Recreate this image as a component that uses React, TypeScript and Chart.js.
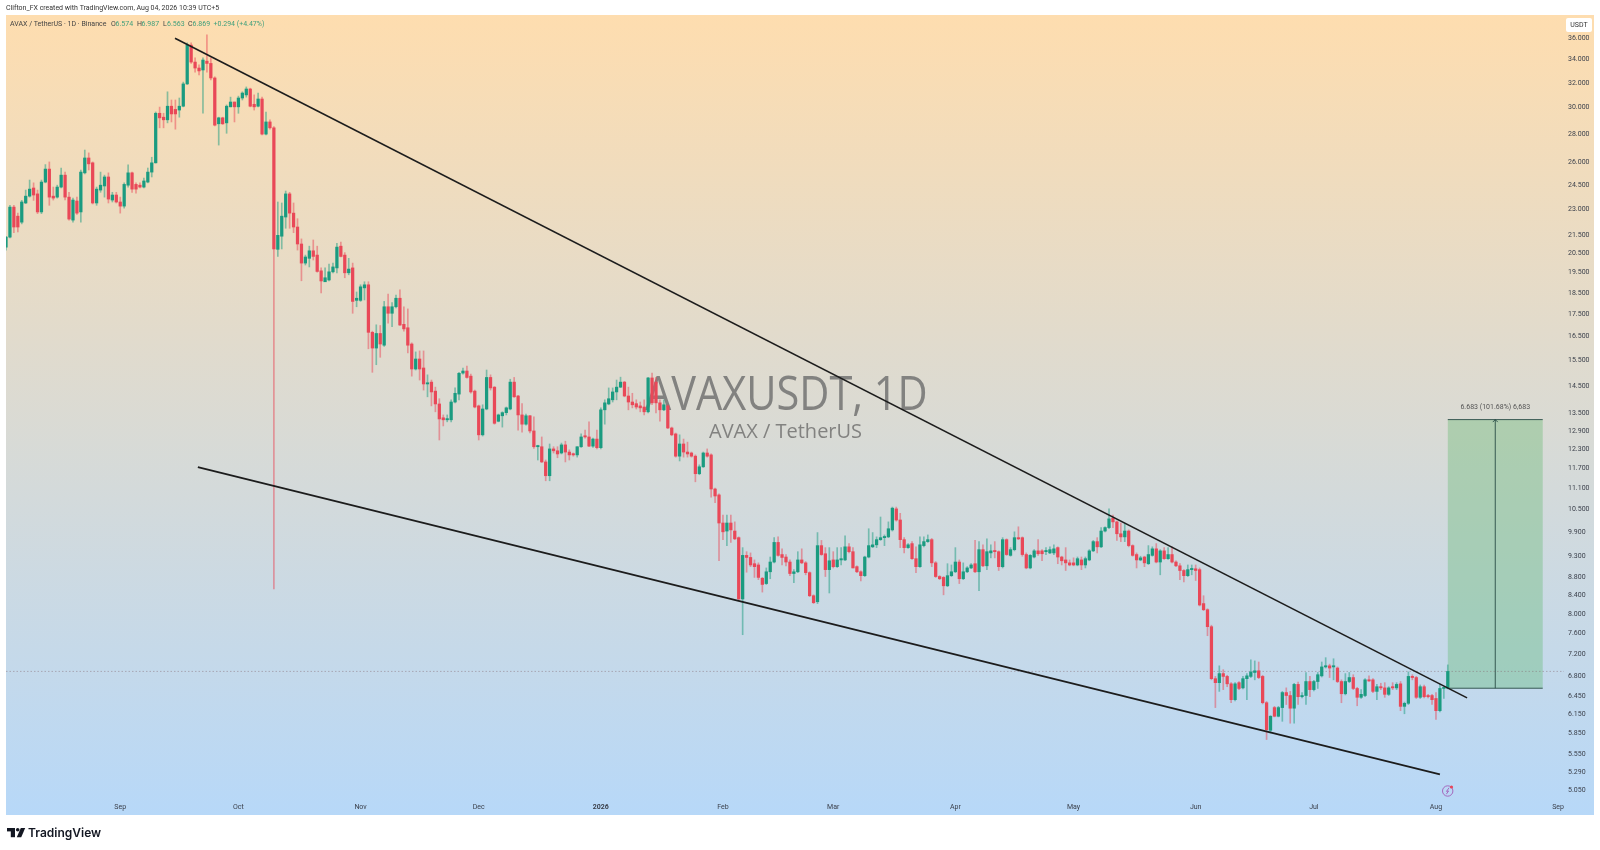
import React, { useEffect, useRef } from "react";
import { Chart, registerables } from "chart.js";

Chart.register(...registerables);

const opens = [
20.8,21.35,23.09,22.55,22.2,23.34,23.76,24.27,23.9,22.8,
24.65,25.5,23.76,23.7,24.33,25.1,23.7,22.32,23.46,22.8,
25.25,26.25,25.92,23.34,24.14,24.4,24.98,23.52,23.83,23.4,
23.15,24.45,25.25,24.5,24.45,24.33,24.65,25.3,25.92,29.5,
29.2,29,30.05,29.8,29.75,30.05,31.85,35.25,33.72,33.2,
33.03,33.8,33.6,32.35,28.7,29.15,28.77,30,30.38,30,
30.7,30.95,31.43,30.2,30.05,30.62,27.94,28.84,28.4,20.68,
21.4,22.5,23.9,22.73,21.92,20.97,19.95,20.2,20.6,20.37,
19.55,19,19.09,19.5,19.7,20.85,20.37,19.45,19.7,18.1,
18.1,18.7,18.85,16.65,15.98,16.6,16.1,17.8,17.5,17.8,
18.2,17,16.85,16.15,15.13,15.53,15.17,14.55,14.62,14.28,
13.81,13.32,13.25,13.25,13.88,14.17,14.97,15.05,14.85,14.28,
13.74,12.74,13.63,14.8,14.43,13.2,13.39,13.5,13.63,14.62,
14.1,13.42,13.1,13.39,12.87,12.35,12.35,11.87,11.45,12.28,
12.22,12.15,12.41,12.18,12.12,12.09,12.35,12.7,12.67,12.37,
12.6,12.32,13.6,13.81,13.96,14.25,14.43,14.62,14.1,13.88,
13.82,13.74,13.7,13.53,14.78,14.62,13.85,13.6,13.74,12.97,
12.77,12.05,12.44,12.18,12.15,12.05,11.51,11.72,12.15,12.09,
11.06,10.89,10.12,9.91,10.12,9.91,9.74,8.3,9.3,9.25,
9.1,9.07,8.76,8.64,8.91,9.14,9.62,9.32,9.26,9.14,
8.87,8.91,9.19,9.12,8.89,8.37,8.24,9.54,9.34,8.96,
9.19,9.03,9.19,9.19,9.51,9.39,9.03,8.91,8.82,9.26,
9.51,9.56,9.69,9.74,9.76,9.94,10.5,10.2,9.69,9.49,
9.59,9.22,9.03,9.54,9.64,9.69,9.12,8.8,8.78,8.59,
8.82,8.91,9.14,8.75,8.91,9,9.1,8.91,9.44,9.05,
9.36,9.41,9.39,9.03,9.69,9.3,9.44,9.74,9.74,9.32,
9,9.26,9.41,9.41,9.39,9.36,9.36,9.49,9.26,9.19,
9.12,9.12,9.07,9.19,9.07,9.19,9.41,9.64,9.51,9.91,
10,10.25,10.15,9.84,9.76,9.91,9.54,9.32,9.19,9.26,
9.1,9.3,9.46,9.14,9.41,9.22,9.32,9.14,9.05,8.94,
8.82,8.96,8.98,8.96,8.2,8.07,7.72,6.74,6.67,6.83,
6.78,6.65,6.38,6.67,6.58,6.74,6.78,6.85,6.88,6.78,
6.33,5.89,6.25,6.11,6.25,6.5,6.45,6.24,6.64,6.43,
6.45,6.69,6.55,6.69,6.79,6.95,6.97,6.95,6.93,6.69,
6.48,6.69,6.76,6.57,6.42,6.45,6.72,6.72,6.52,6.6,
6.58,6.47,6.6,6.58,6.65,6.27,6.32,6.78,6.76,6.42,
6.6,6.45,6.45,6.4,6.2,6.57,6.574,
];

const highs = [
21.4,23.2,23.2,22.73,23.5,24.14,24.78,24.6,24.14,24.78,
25.8,25.98,24.33,24.45,25.57,25.3,24,23.64,23.7,25.44,
26.8,26.6,25.98,24.33,25.3,25.1,25.25,24,24,23.7,
24.6,25.78,25.3,24.6,24.6,24.9,25.57,26.3,29.6,29.98,
29.5,31.2,30.54,30.54,30.7,32,35.45,35.45,34.1,33.47,
34.1,36.2,34.1,32.45,29.2,29.2,30.15,30.77,30.38,30.85,
31.2,31.6,31.5,30.95,31.1,30.77,29.6,29,28.5,23.4,
23.34,24.08,24,23.34,22.4,21.25,20.37,20.85,21.19,20.85,
19.7,19.7,19.9,19.95,21,21.07,20.5,20.2,19.95,18.5,
18.85,19,19,16.7,16.98,16.95,18.05,18.4,18,18.35,
18.6,17.8,17.7,16.2,15.82,15.86,15.86,14.9,14.7,14.43,
14,13.42,13.42,13.96,14.4,15,15.17,15.25,14.93,14.32,
13.77,13.78,15.09,14.9,14.45,13.45,13.53,13.7,14.73,14.8,
14.12,13.82,13.45,13.41,13.35,12.4,12.67,11.93,12.44,12.35,
12.35,12.47,12.53,12.25,12.15,12.35,12.77,12.9,13.18,12.63,
12.9,13.67,13.96,14.4,14.4,14.7,14.81,14.65,14.43,14.2,
13.96,13.88,13.96,14.8,14.97,14.8,13.96,13.96,13.78,13,
12.8,12.74,12.6,12.5,12.18,12.09,11.78,12.18,12.28,12.12,
11.09,10.92,10.33,10.33,10.33,10.15,9.76,9.49,9.39,9.36,
9.19,9.12,8.78,9,9.26,9.74,9.76,9.46,9.32,9.19,
8.96,9.39,9.46,9.15,8.91,8.39,9.87,9.67,9.49,9.49,
9.39,9.49,9.49,9.79,9.59,9.49,9.05,8.93,9.28,9.97,
9.87,9.76,10.28,9.81,10.15,10.55,10.55,10.38,9.74,9.59,
9.64,9.51,9.76,9.76,9.81,9.72,9.15,8.82,8.8,9.1,
9.07,9.49,9.19,9.12,9.03,9.1,9.67,9.64,9.56,9.71,
9.56,9.64,9.41,9.74,9.71,9.49,9.89,10.02,9.76,9.36,
9.32,9.44,9.69,9.44,9.49,9.51,9.56,9.51,9.28,9.49,
9.19,9.24,9.26,9.26,9.26,9.44,9.67,9.74,10,10.02,
10.5,10.33,10.17,10.12,10.1,9.94,9.56,9.36,9.28,9.28,
9.54,9.51,9.59,9.44,9.49,9.49,9.51,9.17,9.1,8.96,
9.07,9.07,9.07,9,8.37,8.09,7.75,6.78,6.97,6.9,
6.8,6.67,6.67,6.69,6.78,6.83,7.08,7.06,7.04,6.8,
6.35,6.12,6.27,6.27,6.52,6.58,6.52,6.66,6.68,6.5,
6.85,6.78,6.71,6.85,7.04,7.12,7,7.1,6.95,6.72,
6.83,6.85,6.81,6.59,6.55,6.74,6.79,6.74,6.64,6.66,
6.67,6.6,6.67,6.67,6.69,6.34,6.86,6.81,6.78,6.63,
6.63,6.47,6.47,6.5,6.64,6.6,6.987,
];

const lows = [
20.64,21.3,21.6,21.64,22.1,23.3,23.7,23.5,22.7,22.7,
24.6,23.2,23.52,23.64,24.27,23.52,22.32,22.2,22.65,22.2,
25.18,25.44,23.28,23.2,24,23.7,23.34,23.4,23.34,22.73,
23.03,24.33,24,23.95,24.27,24.27,24.6,24.98,25.9,28.4,
28.4,28.77,28.84,28.3,29.2,30,31.8,33.6,32.85,32.6,
29.5,32.85,32.18,28.54,27.15,28.65,28,30,28.84,29.5,
30.54,30.77,30,29.75,30,27.87,27.87,28.3,8.52,20.3,
20.7,21.85,21.85,21.6,20.64,19.05,19.85,19.75,20.11,19.48,
18.45,19,19.04,19.45,19.45,20.27,19.2,19.35,17.5,17.8,
18.05,18.12,15.95,15,15.3,15.6,16.05,17.05,16.9,17.75,
16.95,16.7,15.78,14.85,15.09,14.7,14.32,14.07,13.74,13.53,
12.57,13.04,13.18,13.18,13.85,13.96,14.93,14.77,14.2,13.67,
12.57,12.7,13.6,14.32,13.1,13.18,13,13.42,13.6,14.05,
12.9,12.83,13.07,12.8,12.3,11.93,11.85,11.3,11.3,12.15,
12,12.12,11.87,11.93,12.05,12.02,12.33,12.63,12.35,12.33,
12.28,12.28,13.1,13.78,13.88,13.96,14.41,14.07,13.6,13.67,
13.63,13.53,13.42,13.49,13.78,13.49,13.2,13.57,12.95,12.71,
12.02,11.9,12.02,12.02,12.02,11.27,11.48,11.7,12.02,10.83,
10.67,9.17,9.69,9.54,9.62,9.69,8.28,7.56,8.9,9.03,
8.78,8.73,8.45,8.62,8.75,9.12,9.28,9.07,9.05,8.82,
8.66,8.89,9.1,8.84,8.35,8.2,8.2,9.3,8.8,8.43,
9,9.01,9.07,9.17,9.36,9,8.89,8.7,8.8,9.24,
9.49,9.49,9.67,9.54,9.74,9.91,10.17,9.49,9.36,9.47,
9.2,8.89,9.01,9.51,9.62,9.03,8.78,8.73,8.39,8.57,
8.8,8.89,8.64,8.73,8.89,8.98,8.89,8.48,9.03,8.96,
9.24,9.24,8.94,9,9.3,9.28,9.41,9.69,9.28,8.98,
8.98,9.24,9.3,9.17,9.32,9.34,9.32,9.1,9.07,8.94,
9.05,9.05,9.05,8.96,9,9.17,9.39,9.36,9.49,9.89,
9.97,10,9.67,9.64,9.64,9.51,9.28,9,9.17,9.03,
9.08,9.28,9.12,8.84,9.2,9.2,9.12,9.03,8.73,8.68,
8.8,8.84,8.71,8.15,8.05,7.54,6.72,6.25,6.52,6.55,
6.6,6.33,6.36,6.55,6.56,6.38,6.76,6.72,6.74,6.31,
5.75,5.85,6.1,6.1,6.03,6.3,6,6,6.3,6.41,
6.3,6.43,6.53,6.57,6.77,6.93,6.76,6.72,6.67,6.33,
6.46,6.67,6.55,6.28,6.4,6.43,6.69,6.5,6.38,6.55,
6.42,6.45,6.55,6.55,6.2,6.15,6.3,6.72,6.4,6.4,
6.41,6.41,6.3,6.06,6.18,6.4,6.563,
];

const closes = [
21.35,23.09,21.92,21.92,23.4,23.76,24.2,23.83,22.8,24.65,
25.5,23.7,23.64,24.33,25.1,23.7,22.38,23.52,22.73,25.3,
26.25,25.85,23.34,24.2,24.45,24.98,23.58,23.83,23.4,23.15,
24.5,25.25,24.2,24.2,24.33,24.72,25.3,25.92,29.5,29.15,
29,30.05,29.45,29.45,30.05,31.85,35.25,33.72,33.2,32.95,
33.9,33.6,32.35,28.6,29.15,28.7,30.05,30.38,30,30.7,
31.1,31.43,30.05,30,30.62,27.94,28.84,28.4,20.7,21.45,
22.55,23.9,22.73,21.92,20.97,19.95,20.27,20.6,20.3,19.52,
19.04,19.2,19.5,19.75,20.8,20.3,19.45,19.64,18.05,18.2,
18.75,18.85,16.65,15.98,16.6,16.15,17.8,17.5,17.8,18.2,
16.97,16.8,16.1,15.13,15.53,15.13,14.55,14.59,14.25,13.81,
13.28,13.25,13.28,13.88,14.2,14.96,15.05,14.8,14.25,13.7,
12.74,13.63,14.8,14.4,13.13,13.42,13.5,13.67,14.62,14.07,
13.42,13.1,13.39,12.87,12.35,12.37,11.87,11.45,12.28,12.22,
12.12,12.41,12.18,12.09,12.09,12.35,12.67,12.67,12.37,12.6,
12.32,13.6,13.85,14,14.25,14.43,14.62,14.1,13.88,13.78,
13.7,13.67,13.53,14.78,13.85,13.85,13.6,13.78,12.97,12.74,
12.05,12.44,12.18,12.12,12.05,11.51,11.72,12.15,12.05,11.06,
10.86,10.12,9.89,10.12,9.94,9.71,8.3,9.3,9.25,9.07,
9.03,8.78,8.62,8.91,9.14,9.62,9.3,9.25,9.14,8.87,
8.91,9.19,9.12,8.89,8.37,8.22,9.54,9.32,8.96,9.17,
9.03,9.19,9.22,9.51,9.39,9,8.91,8.82,9.26,9.54,
9.56,9.69,9.74,9.76,9.97,10.52,10.2,9.69,9.49,9.56,
9.22,9.03,9.56,9.64,9.69,9.12,8.8,8.75,8.59,8.82,
8.91,9.14,8.75,8.91,9,9.07,8.91,9.44,9.05,9.39,
9.41,9.39,9.03,9.69,9.32,9.44,9.74,9.71,9.32,9,
9.3,9.41,9.34,9.34,9.41,9.44,9.46,9.26,9.17,9.12,
9.07,9.07,9.22,9.07,9.22,9.41,9.64,9.51,9.91,10,
10.23,10.15,9.84,9.76,9.91,9.54,9.3,9.19,9.24,9.12,
9.32,9.46,9.14,9.41,9.22,9.32,9.14,9.05,8.94,8.82,
8.96,8.98,8.94,8.17,8.07,7.72,6.74,6.67,6.83,6.78,
6.65,6.38,6.65,6.57,6.74,6.79,6.86,6.88,6.76,6.33,
5.9,6.11,6.11,6.25,6.5,6.45,6.24,6.64,6.43,6.45,
6.69,6.55,6.69,6.81,6.95,6.97,6.93,6.97,6.69,6.48,
6.69,6.76,6.57,6.42,6.47,6.72,6.7,6.52,6.6,6.58,
6.47,6.58,6.58,6.64,6.27,6.32,6.78,6.76,6.42,6.6,
6.43,6.43,6.38,6.2,6.57,6.58,6.869,
];

// day offset from 1 Sep 2025 of the first candle
const firstDay = -29;
const days = opens.map((_, i) => firstDay + i);

const priceTicks = [36,34,32,30,28,26,24.5,23,21.5,20.5,19.5,18.5,17.5,16.5,15.5,14.5,13.5,12.9,12.3,11.7,11.1,10.5,9.9,9.3,8.8,8.4,8,7.6,7.2,6.8,6.45,6.15,5.85,5.55,5.29,5.05];
const monthDays = [0,30,61,91,122,153,181,212,242,273,303,334,365];
const monthNames = ["Sep","Oct","Nov","Dec","2026","Feb","Mar","Apr","May","Jun","Jul","Aug","Sep"];

const upperTrend = [{ x: 13.9, y: 35.88 }, { x: 341.9, y: 6.41 }];
const lowerTrend = [{ x: 19.7, y: 11.71 }, { x: 335, y: 5.25 }];
const lastPrice = 6.869;
const measure = { fromDay: 337, toDay: 361.1, low: 6.574, high: 13.257, label: "6.683 (101.68%) 6,683" };

const FONT = '"Roboto", "Liberation Sans", sans-serif';
const GREEN = "rgb(26,155,128)";
const RED = "rgb(233,72,88)";
const GREEN_W = "rgba(26,155,128,0.5)";
const RED_W = "rgba(233,72,88,0.5)";

const decor = {
  id: "decor",
  beforeDraw(chart: any) {
    const { ctx } = chart;
    ctx.save();
    ctx.fillStyle = "#ffffff";
    ctx.fillRect(0, 0, 1600, 850);
    const g = ctx.createLinearGradient(0, 15, 0, 815);
    g.addColorStop(0, "rgb(254,221,175)");
    g.addColorStop(1, "rgb(183,216,248)");
    ctx.fillStyle = g;
    ctx.fillRect(6, 15, 1588, 800);
    ctx.restore();
  },
  beforeDatasetsDraw(chart: any) {
    const { ctx, scales } = chart;
    const { x, y } = scales;
    ctx.save();
    ctx.textAlign = "left";
    ctx.textBaseline = "alphabetic";
    ctx.fillStyle = "rgb(130,130,128)";
    ctx.save();
    ctx.translate(645, 410);
    ctx.scale(0.865, 1);
    ctx.font = '48px "Open Sans", sans-serif';
    ctx.fillText("AVAXUSDT, 1D", 0, 0);
    ctx.restore();
    ctx.font = '20px "Open Sans", sans-serif';
    ctx.fillText("AVAX / TetherUS", 709, 438);

    const x0 = x.getPixelForValue(measure.fromDay);
    const x1 = x.getPixelForValue(measure.toDay);
    const yT = y.getPixelForValue(measure.high);
    const yB = y.getPixelForValue(measure.low);
    ctx.fillStyle = "rgba(76,178,90,0.31)";
    ctx.fillRect(x0, yT, x1 - x0, yB - yT);
    ctx.strokeStyle = "rgba(60,100,85,0.85)";
    ctx.lineWidth = 1;
    ctx.beginPath();
    ctx.moveTo(x0, yT); ctx.lineTo(x1, yT);
    ctx.moveTo(x0, yB); ctx.lineTo(x1, yB);
    const xm = (x0 + x1) / 2;
    ctx.moveTo(xm, yB); ctx.lineTo(xm, yT);
    ctx.moveTo(xm - 2.5, yT + 2.5); ctx.lineTo(xm, yT); ctx.lineTo(xm + 2.5, yT + 2.5);
    ctx.strokeStyle = "rgba(40,75,70,0.9)";
    ctx.stroke();
    ctx.fillStyle = "#555";
    ctx.font = "7px " + FONT;
    ctx.textAlign = "center";
    ctx.fillText(measure.label, xm, yT - 11);
    ctx.restore();
  },
  afterDraw(chart: any) {
    const { ctx } = chart;
    ctx.save();
    ctx.textBaseline = "middle";
    ctx.textAlign = "left";
    ctx.font = "7px " + FONT;
    ctx.fillStyle = "#333";
    ctx.fillText("Clifton_FX created with TradingView.com, Aug 04, 2026 10:39 UTC+5", 6, 8.6);

    const dark = "#444";
    const val = "#3f9f7c";
    const parts: [string, number, string][] = [
      ["AVAX / TetherUS · 1D · Binance", 10, dark],
      ["O", 111, dark], ["6.574", 115.5, val],
      ["H", 137, dark], ["6.987", 141.5, val],
      ["L", 163, dark], ["6.563", 167, val],
      ["C", 188, dark], ["6.869", 192.5, val],
      ["+0.294 (+4.47%)", 213.5, val],
    ];
    parts.forEach(([t, px, c]) => {
      ctx.fillStyle = c;
      ctx.fillText(t, px, 24.3);
    });

    // currency tag
    ctx.fillStyle = "#ffffff";
    ctx.beginPath();
    ctx.roundRect(1566, 18, 26, 14, 2);
    ctx.fill();
    ctx.fillStyle = "#333";
    ctx.font = "7px " + FONT;
    ctx.textAlign = "center";
    ctx.fillText("USDT", 1579, 25.5);

    // events marker
    ctx.strokeStyle = "rgb(165,105,190)";
    ctx.lineWidth = 1;
    ctx.beginPath();
    ctx.arc(1447.7, 791, 5.2, 0, Math.PI * 2);
    ctx.stroke();
    ctx.beginPath();
    ctx.moveTo(1449, 787.8); ctx.lineTo(1446.5, 791.4); ctx.lineTo(1448.6, 791); ctx.lineTo(1446.3, 794.2);
    ctx.stroke();
    ctx.fillStyle = "rgb(230,70,90)";
    ctx.beginPath();
    ctx.arc(1451.5, 787, 1.6, 0, Math.PI * 2);
    ctx.fill();

    // brand
    ctx.fillStyle = "#131722";
    ctx.fillRect(7, 828, 8, 3.4);
    ctx.fillRect(10.8, 828, 4.2, 9.2);
    ctx.beginPath();
    ctx.arc(17.7, 829.8, 1.8, 0, Math.PI * 2);
    ctx.fill();
    ctx.beginPath();
    ctx.moveTo(20.8, 828); ctx.lineTo(25.2, 828); ctx.lineTo(21.2, 837.2); ctx.lineTo(16.8, 837.2);
    ctx.closePath();
    ctx.fill();
    ctx.textAlign = "left";
    ctx.font = '600 12px "Inter", "Roboto", sans-serif';
    ctx.fillText("TradingView", 28, 833);
    ctx.restore();
  },
};

export default function App() {
  const ref = useRef<HTMLCanvasElement | null>(null);
  useEffect(() => {
    if (!ref.current) return;
    const colors = closes.map((c, i) => (c >= opens[i] ? GREEN : RED));
    const wickColors = closes.map((c, i) => (c >= opens[i] ? GREEN_W : RED_W));
    const chart = new Chart(ref.current, {
      type: "bar",
      data: {
        datasets: [
          {
            type: "line",
            data: upperTrend,
            borderColor: "#1c1c1c",
            borderWidth: 1.6,
            pointRadius: 0,
            order: 0,
          },
          {
            type: "line",
            data: lowerTrend,
            borderColor: "#1c1c1c",
            borderWidth: 1.8,
            pointRadius: 0,
            order: 0,
          },
          {
            type: "bar",
            data: days.map((d, i) => ({ x: d, y: [opens[i], closes[i]] })),
            backgroundColor: colors,
            barThickness: 2.6,
            minBarLength: 1.2,
            grouped: false,
            order: 1,
          },
          {
            type: "bar",
            data: days.map((d, i) => ({ x: d, y: [lows[i], highs[i]] })),
            backgroundColor: wickColors,
            barThickness: 1,
            grouped: false,
            order: 2,
          },
          {
            type: "line",
            data: [{ x: -29, y: lastPrice }, { x: 366.5, y: lastPrice }],
            borderColor: "rgba(130,100,110,0.55)",
            borderWidth: 0.8,
            borderDash: [1.5, 2],
            pointRadius: 0,
            order: 3,
          },
        ],
      } as any,
      options: {
        responsive: false,
        animation: false,
        devicePixelRatio: 1,
        layout: { padding: { left: 6, top: 15, right: 0, bottom: 0 } },
        plugins: { legend: { display: false }, tooltip: { enabled: false }, title: { display: false } },
        scales: {
          x: {
            type: "linear",
            offset: false,
            min: -29,
            max: 366.5,
            grid: { display: false, offset: false, drawTicks: false },
            border: { display: false },
            afterBuildTicks: (s: any) => { s.ticks = monthDays.map((v) => ({ value: v })); },
            afterFit: (s: any) => { s.height = 50; },
            ticks: {
              autoSkip: false,
              maxRotation: 0,
              padding: 3.5,
              color: "#3a3f4a",
              font: (c: any) => ({
                family: FONT,
                size: 7,
                weight: c.tick && c.tick.value === 122 ? "bold" : "normal",
              }),
              callback: (v: any) => monthNames[monthDays.indexOf(Number(v))] ?? "",
            },
          },
          y: {
            type: "logarithmic",
            position: "right",
            min: 4.91,
            max: 38.13,
            grid: { display: false, drawTicks: false },
            border: { display: false },
            afterBuildTicks: (s: any) => { s.ticks = priceTicks.map((v) => ({ value: v })); },
            afterFit: (s: any) => { s.width = 36; },
            ticks: {
              autoSkip: false,
              padding: 4,
              labelOffset: 0.8,
              color: "#3a3f4a",
              font: { family: FONT, size: 7 },
              callback: (v: any) => Number(v).toFixed(3),
            },
          },
        },
      } as any,
      plugins: [decor],
    });
    return () => chart.destroy();
  }, []);
  return (
    <div style={{ position: "absolute", left: 0, top: 0, width: 1600, height: 850 }}>
      <canvas ref={ref} width={1600} height={850} style={{ display: "block", width: 1600, height: 850 }} />
    </div>
  );
}
